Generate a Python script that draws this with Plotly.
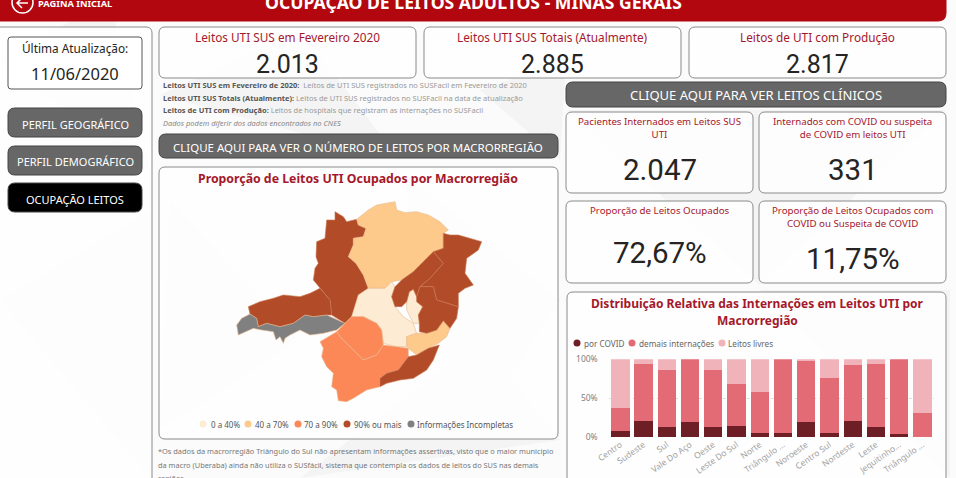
#!/usr/bin/env python3
"""Painel de ocupacao de leitos adultos - Minas Gerais."""
import plotly.graph_objects as go

W, H = 956, 478

# ---- data ----
regions = ["Centro", "Sudeste", "Sul", "Vale Do Aço", "Oeste", "Leste Do Sul", "Norte",
           "Triângulo do Norte", "Noroeste", "Centro Sul", "Nordeste", "Leste",
           "Jequitinhonha", "Triângulo do Sul"]
region_ticks = ["Centro", "Sudeste", "Sul", "Vale Do Aço", "Oeste", "Leste Do Sul", "Norte",
                "Triângulo ...", "Noroeste", "Centro Sul", "Nordeste", "Leste",
                "Jequitinho...", "Triângulo ..."]
por_covid = [8, 21, 13, 20, 13, 14, 6, 5, 19, 6, 21, 13, 4, 0]
demais = [30, 73, 73, 80, 73, 54, 52, 95, 79, 70, 72, 81, 96, 31]
livres = [62, 6, 14, 0, 14, 32, 42, 0, 2, 24, 7, 6, 0, 69]
y_ticks = [0, 50, 100]
y_tick_text = ["0%", "50%", "100%"]

kpi_top = [("Leitos UTI SUS em Fevereiro 2020", "2.013"),
           ("Leitos UTI SUS Totais (Atualmente)", "2.885"),
           ("Leitos de UTI com Produção", "2.817")]
kpi_small = [("Pacientes Internados em Leitos SUS<br>UTI", "2.047"),
             ("Internados com COVID ou suspeita<br>de COVID em leitos UTI", "331"),
             ("Proporção de Leitos Ocupados", "72,67%"),
             ("Proporção de Leitos Ocupados com<br>COVID ou Suspeita de COVID", "11,75%")]
notes = [("Leitos UTI SUS em Fevereiro de 2020:", "  Leitos de UTI SUS registrados no SUSFacil em Fevereiro de 2020"),
         ("Leitos UTI SUS Totais (Atualmente):", " Leitos de UTI SUS registrados no SUSFacil na data de atualização"),
         ("Leitos de UTI com Produção:", " Leitos de hospitais que registram as internações no SUSFacil")]
note_italic = "Dados podem diferir dos dados encontrados no CNES"
footnote = ["*Os dados da macrorregião Triângulo do Sul não apresentam informações assertivas, visto que o maior município",
            "da macro (Uberaba) ainda não utiliza o SUSfácil, sistema que contempla os dados de leitos do SUS nas demais",
            "regiões."]
map_classes = ["0 a 40%", "40 a 70%", "70 a 90%", "90% ou mais", "Informações Incompletas"]

# map outlines in map units
norte = [(620, 178), (655, 150), (680, 135), (735, 125), (740, 150), (765, 158), (800, 155), (835, 165),
         (870, 185), (895, 210), (880, 220), (880, 265), (850, 275), (820, 305), (790, 335), (755, 360),
         (725, 365), (705, 385), (655, 385), (640, 345), (618, 310), (595, 290), (610, 255), (610, 235),
         (640, 230), (648, 205), (625, 195)]
noroeste = [(555, 155), (580, 170), (590, 185), (620, 178), (625, 195), (648, 205), (640, 230), (610, 235),
            (610, 255), (595, 290), (618, 310), (640, 345), (655, 385), (625, 405), (615, 440), (605, 470),
            (585, 490), (545, 465), (540, 420), (510, 385), (490, 360), (495, 325), (505, 310), (498, 290),
            (500, 245), (525, 235), (530, 180), (555, 180)]
triangulo_norte = [(510, 385), (540, 420), (545, 465), (530, 465), (490, 470), (465, 465), (430, 490),
                   (390, 500), (350, 490), (325, 500), (320, 475), (300, 462), (295, 440), (330, 425),
                   (370, 415), (400, 405), (450, 410), (480, 400)]
triangulo_sul = [(300, 462), (320, 475), (325, 500), (350, 490), (390, 500), (430, 490), (465, 465), (490, 470),
                 (530, 465), (585, 490), (560, 510), (520, 520), (480, 525), (450, 510), (420, 525), (405, 535),
                 (400, 550), (390, 530), (378, 540), (370, 515), (335, 510), (310, 505), (265, 525), (260, 495),
                 (275, 475)]
centro = [(655, 385), (705, 385), (725, 365), (735, 380), (725, 410), (735, 440), (760, 470), (790, 490),
          (800, 520), (770, 530), (770, 560), (740, 560), (700, 550), (695, 510), (680, 490), (640, 470),
          (605, 470), (615, 440), (625, 405)]
vale_aco = [(790, 388), (800, 410), (800, 425), (818, 440), (805, 465), (808, 490), (790, 490), (770, 450),
            (770, 425), (778, 395)]
oeste = [(605, 470), (640, 470), (680, 490), (695, 510), (700, 555), (680, 585), (640, 600), (600, 560),
         (570, 530), (560, 515), (585, 490)]
sul = [(510, 545), (560, 515), (570, 530), (600, 560), (640, 600), (680, 585), (700, 555), (740, 560), (775, 565),
       (775, 590), (745, 630), (710, 640), (690, 655), (690, 680), (650, 690), (610, 715), (590, 725),
       (565, 722), (560, 690), (545, 680), (550, 640), (530, 620), (515, 590), (520, 565)]
centro_sul = [(770, 530), (800, 520), (830, 520), (860, 510), (880, 482), (900, 505), (890, 530), (865, 550),
              (835, 565), (800, 585), (775, 565), (770, 560)]
sudeste = [(775, 590), (800, 585), (835, 565), (868, 555), (850, 600), (830, 630), (790, 655), (750, 660),
           (710, 670), (690, 680), (690, 655), (710, 640), (745, 630)]
leste = [(735, 380), (755, 360), (790, 335), (820, 305), (850, 275), (880, 310), (840, 355), (810, 380),
         (800, 410), (790, 388), (778, 395), (770, 425), (755, 440), (735, 440), (725, 410)]
nordeste = [(880, 220), (900, 225), (925, 225), (960, 235), (995, 245), (985, 270), (950, 295), (945, 340),
            (970, 375), (945, 385), (925, 400), (925, 440), (860, 420), (850, 380), (810, 380), (840, 355),
            (880, 310), (850, 275), (880, 265)]
leste_sul = [(800, 410), (810, 380), (850, 380), (860, 420), (925, 440), (920, 475), (900, 505), (880, 482),
             (860, 510), (830, 520), (808, 515), (808, 490), (805, 465), (818, 440), (800, 425)]

C_LOW, C_MID, C_HIGH, C_TOP, C_NA = "#FDEBD3", "#FDCA8C", "#FC8757", "#B24C28", "#808080"
map_shapes = [(noroeste, C_TOP), (triangulo_norte, C_TOP), (norte, C_MID), (triangulo_sul, C_NA), (centro, C_LOW),
              (vale_aco, C_LOW), (oeste, C_HIGH), (sul, C_HIGH), (centro_sul, C_MID), (sudeste, C_TOP),
              (leste, C_TOP), (nordeste, C_TOP), (leste_sul, C_TOP)]

# pale low-poly wallpaper
wallpaper = [[(0, 60), (110, 0), (150, 170)], [(0, 300), (150, 210), (150, 478)], [(160, 95), (400, 160), (300, 30)],
             [(170, 200), (300, 340), (160, 430)], [(400, 170), (560, 300), (470, 440)], [(560, 160), (480, 90), (566, 60)],
             [(566, 110), (760, 285), (946, 110)], [(760, 290), (950, 478), (950, 290)], [(560, 440), (300, 478), (480, 340)]]

RED = "#B30710"
TITLE_RED = "#A5182B"
INK = "#252423"
GREY_BTN = "#676767"
BORDER = "#8A8A8A"
FONT = "Noto Sans"
NUM_FONT = "Roboto"


def px(x):
    return x / W


def py(y):
    return 1 - y / H


def rounded(x0, y0, x1, y1, r=6):
    pts = [f"M {px(x0 + r)} {py(y0)}", f"L {px(x1 - r)} {py(y0)}", f"Q {px(x1)} {py(y0)} {px(x1)} {py(y0 + r)}",
           f"L {px(x1)} {py(y1 - r)}", f"Q {px(x1)} {py(y1)} {px(x1 - r)} {py(y1)}", f"L {px(x0 + r)} {py(y1)}",
           f"Q {px(x0)} {py(y1)} {px(x0)} {py(y1 - r)}", f"L {px(x0)} {py(y0 + r)}",
           f"Q {px(x0)} {py(y0)} {px(x0 + r)} {py(y0)}", "Z"]
    return " ".join(pts)


shapes = []
annotations = []


def box(x0, y0, x1, y1, fill="rgba(255,255,255,0.8)", line=BORDER, width=1, r=6):
    shapes.append(dict(type="path", path=rounded(x0, y0, x1, y1, r), xref="paper", yref="paper", layer="below",
                       fillcolor=fill, line=dict(color=line, width=width)))


def label(x, y, text, size, color=INK, anchor="center", family=FONT):
    annotations.append(dict(x=px(x), y=py(y), xref="paper", yref="paper", text=text, showarrow=False,
                            xanchor=anchor, yanchor="middle", align=anchor if anchor != "middle" else "center",
                            font=dict(family=family, size=size, color=color), borderpad=0))


def dot(x, y, color, r=3.5):
    shapes.append(dict(type="circle", xref="paper", yref="paper", x0=px(x - r), x1=px(x + r), y0=py(y + r), y1=py(y - r),
                       fillcolor=color, line=dict(width=0), layer="above"))


for tri in wallpaper:
    path = "M " + " L ".join(f"{px(a)} {py(b)}" for a, b in tri) + " Z"
    shapes.append(dict(type="path", path=path, xref="paper", yref="paper", layer="below",
                       fillcolor="#F4F4F4", line=dict(width=0)))

# header
box(-10, -10, 946, 21, fill=RED, line=RED, r=8)
label(473, 2, "<b>OCUPAÇÃO DE LEITOS ADULTOS - MINAS GERAIS</b>", 17.6, "white")
label(37, 3, "<b>PÁGINA INICIAL</b>", 9.3, "white", "left")
shapes.append(dict(type="circle", xref="paper", yref="paper", x0=px(12), x1=px(33), y0=py(13), y1=py(-8),
                   line=dict(color="white", width=1.5), layer="above"))
shapes.append(dict(type="path", xref="paper", yref="paper", layer="above", line=dict(color="white", width=1.5),
                   path=f"M {px(28)} {py(3)} L {px(17)} {py(3)} M {px(22)} {py(-2)} L {px(17)} {py(3)} L {px(22)} {py(8)}"))

# left panel
box(-10, 27, 152, 490)
box(8, 37, 142, 89, fill="white", line="#555555", r=3)
label(75, 48, "Última Atualização:", 11.8)
label(75, 73, "11/06/2020", 16.5)
for top, text, fill in [(108, "PERFIL GEOGRÁFICO", GREY_BTN), (146, "PERFIL DEMOGRÁFICO", GREY_BTN), (183, "OCUPAÇÃO LEITOS", "#000000")]:
    box(8, top, 142, top + 29, fill=fill, line="#444444", r=7)
    label(75, top + 16, text, 11, "white")

# top KPI cards
for x0, (title, value) in zip((159, 424, 689), kpi_top):
    box(x0, 27, x0 + 257, 78)
    label(x0 + 128.5, 37, title, 11.8, TITLE_RED)
    label(x0 + 128.5, 64, value, 25, INK, family=NUM_FONT)

for i, (head, body) in enumerate(notes):
    label(162, 85 + i * 12.6, f'<b>{head}</b><span style="color:#999999">{body}</span>', 7.5, "#555555", "left")
label(162, 85 + 3 * 12.6, f"<i>{note_italic}</i>", 7.5, "#888888", "left")

box(159, 134, 558, 158, fill=GREY_BTN, line="#444444", r=7)
label(358, 147, "CLIQUE AQUI PARA VER O NÚMERO DE LEITOS POR MACRORREGIÃO", 11.5, "white")
box(566, 82, 946, 107, fill=GREY_BTN, line="#444444", r=7)
label(756, 95, "CLIQUE AQUI PARA VER LEITOS CLÍNICOS", 13, "white")

# small KPI cards
small_pos = [(566, 112, 753, 193, 170), (759, 112, 946, 193, 170), (566, 201, 753, 283, 253), (759, 201, 946, 283, 259)]
for (x0, y0, x1, y1, vy), (title, value) in zip(small_pos, kpi_small):
    box(x0, y0, x1, y1)
    label((x0 + x1) / 2, y0 + (16 if "<br>" in title else 10), title, 9.7, TITLE_RED)
    label((x0 + x1) / 2, vy, value, 29.5, INK, family=NUM_FONT)

# map card
box(159, 167, 558, 439)
label(358, 178, "<b>Proporção de Leitos UTI Ocupados por Macrorregião</b>", 12.3, TITLE_RED)
for dx, tx, text, color in zip((203, 248, 298, 347, 411), (210, 254, 303, 353, 416), map_classes,
                               (C_LOW, C_MID, C_HIGH, C_TOP, C_NA)):
    dot(dx, 424, color)
    label(tx, 424, text, 8, "#555555", "left")
for i, text in enumerate(footnote):
    label(157, 451 + i * 13.5, text, 7.4, "#777777", "left")

# bar card
box(567, 292, 946, 490)
label(757, 303, "<b>Distribuição Relativa das Internações em Leitos UTI por</b>", 12, TITLE_RED)
label(757, 320, "<b>Macrorregião</b>", 12, TITLE_RED)
for dx, tx, text, color in zip((577, 632, 722), (583, 638, 727), ("por COVID", "demais internações", "Leitos livres"),
                               ("#6E1F25", "#E26B76", "#F1B3BA")):
    dot(dx, 343, color)
    label(tx, 343, text, 8.2, "#666666", "left")

fig = go.Figure()
for name, values, color in [("por COVID", por_covid, "#6E1F25"), ("demais internações", demais, "#E26B76"),
                            ("Leitos livres", livres, "#F1B3BA")]:
    fig.add_trace(go.Bar(x=regions, y=values, name=name, marker=dict(color=color, line=dict(width=0)), showlegend=False))

for outline, color in map_shapes:
    xs = [p[0] for p in outline] + [outline[0][0]]
    ys = [p[1] for p in outline] + [outline[0][1]]
    fig.add_trace(go.Scatter(x=xs, y=ys, xaxis="x2", yaxis="y2", mode="lines", fill="toself", fillcolor=color,
                             line=dict(color="#C9764F" if color == C_TOP else "#E9B98F", width=0.6),
                             hoverinfo="skip", showlegend=False))

fig.update_layout(
    width=W, height=H, margin=dict(l=0, r=0, t=0, b=0, autoexpand=False), autosize=False,
    paper_bgcolor="#FBFBFB", plot_bgcolor="rgba(0,0,0,0)", barmode="stack", bargap=0.21,
    shapes=shapes, annotations=annotations,
    xaxis=dict(domain=[px(608.7), px(934)], tickmode="array", tickvals=regions, ticktext=region_ticks, tickangle=-35,
               tickfont=dict(family=FONT, size=8.5, color="#A0A0A0"), showgrid=False, zeroline=False, ticks="", showline=False),
    yaxis=dict(domain=[py(437.3), py(359.3)], range=[0, 100], tickmode="array", tickvals=y_ticks, ticktext=y_tick_text,
               tickfont=dict(family=FONT, size=8.5, color="#808080"), showgrid=True, griddash="dot", gridcolor="#DDDDDD",
               zeroline=False, ticks="", ticklabelstandoff=10),
    xaxis2=dict(domain=[px(150), px(565)], range=[0, 1245], visible=False, anchor="y2"),
    yaxis2=dict(domain=[py(478), py(160)], range=[954, 0], visible=False, anchor="x2"),
)

# the page's default body margin would push the whole dashboard 8px in
pin_page = ("document.documentElement.style.margin='0';document.body.style.margin='0';"
            "var gd=document.getElementById('{plot_id}');gd.style.position='fixed';gd.style.left='0';gd.style.top='0';")
fig.write_html("out.html", config={"displayModeBar": False}, post_script=pin_page)
